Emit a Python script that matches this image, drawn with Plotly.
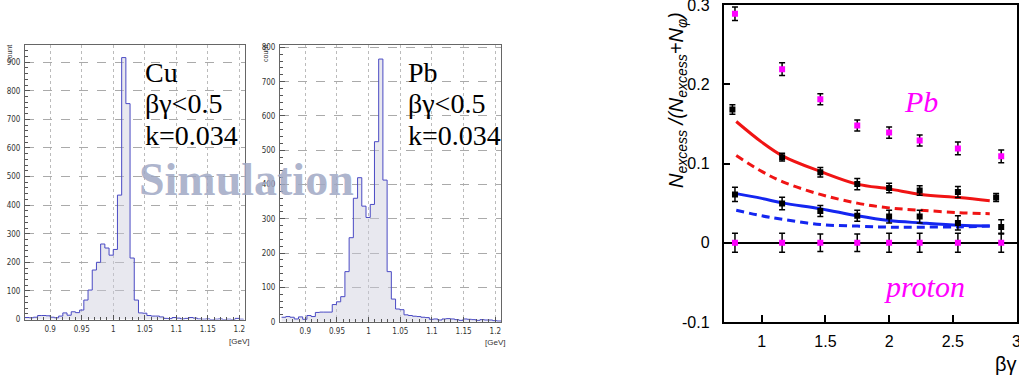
import plotly.graph_objects as go

# ---------------- data ----------------
bin_width = 1 / 150
cu_bin_start = 0.86
pb_bin_start = 0.8625
cu_counts = [7, 6, 8, 14, 14, 13, 8, 6, 12, 23,
             15, 27, 24, 33, 68, 103, 173, 200, 264, 250,
             225, 245, 435, 916, 755, 215, 68, 23, 22, 14,
             12, 12, 9, 4, 3, 7, 5, 2, 4, 7,
             5, 2, 1, 2, 0, 1, 2, 0, 1, 0,
             4, 1, 0]
pb_counts = [13, 15, 13, 8, 14, 7, 18, 15, 27, 28,
             28, 28, 50, 58, 73, 146, 245, 360, 420, 337,
             304, 342, 525, 766, 413, 146, 66, 37, 35, 20,
             18, 16, 15, 13, 12, 7, 8, 5, 8, 9,
             8, 6, 4, 8, 7, 6, 4, 6, 5, 5,
             3, 2, 2]
hist_tickvals = [0.9, 0.95, 1.0, 1.05, 1.1, 1.15, 1.2]
hist_ticktext = ["0.9", "0.95", "1", "1.05", "1.1", "1.15", "1.2"]
cu_yticks = [0, 100, 200, 300, 400, 500, 600, 700, 800, 900]
pb_yticks = [0, 100, 200, 300, 400, 500, 600, 700, 800]

bg_points = [0.79, 1.16, 1.46, 1.75, 2.0, 2.24, 2.54, 2.88]
pb_ratio = [0.289, 0.219, 0.181, 0.148, 0.139, 0.129, 0.119, 0.109]
pb_ratio_err = [0.0085, 0.008, 0.007, 0.007, 0.007, 0.007, 0.008, 0.008]
proton_ratio = [0, 0, 0, 0, 0, 0, 0, 0]
proton_err = [0.012, 0.012, 0.011, 0.011, 0.012, 0.012, 0.012, 0.012]

black_hi_bg = [0.77, 1.16, 1.46, 1.75, 2.0, 2.24, 2.54, 2.84]
black_hi = [0.168, 0.108, 0.089, 0.074, 0.069, 0.066, 0.064, 0.057]
black_hi_err = [0.006, 0.005, 0.006, 0.007, 0.006, 0.006, 0.007, 0.005]
black_lo_bg = [0.79, 1.16, 1.46, 1.75, 2.0, 2.24, 2.54, 2.88]
black_lo = [0.061, 0.0495, 0.040, 0.034, 0.033, 0.033, 0.025, 0.020]
black_lo_err = [0.009, 0.008, 0.007, 0.007, 0.008, 0.008, 0.009, 0.009]

curve_bg = [0.80, 1.0, 1.17, 1.46, 1.75, 2.0, 2.25, 2.55, 2.79]
red_solid = [0.153, 0.127, 0.109, 0.090, 0.074, 0.068, 0.061, 0.057, 0.053]
red_dash = [0.110, 0.090, 0.0765, 0.061, 0.050, 0.044, 0.041, 0.038, 0.0366]
blue_solid = [0.062, 0.056, 0.050, 0.043, 0.034, 0.028, 0.025, 0.022, 0.021]
blue_dash = [0.041, 0.034, 0.0294, 0.023, 0.021, 0.0197, 0.0197, 0.020, 0.021]

right_xticks = [1, 1.5, 2, 2.5, 3]
right_xticktext = ["1", "1.5", "2", "2.5", "3"]
right_yticks = [-0.1, 0, 0.1, 0.2, 0.3]
right_yticktext = ["-0.1", "0", "0.1", "0.2", "0.3"]

# ---------------- layout helpers ----------------
W, H = 1019, 380


def fx(p):
    return p / W


def fy(p):
    return 1 - p / H


HIST_LINE = "#4a4ac4"
HIST_FILL = "rgba(205,205,220,0.45)"
SMALL_FONT = dict(family="Liberation Sans Narrow, DejaVu Sans Condensed, sans-serif", size=8, color="#333")
MAGENTA = "#ff00ff"

fig = go.Figure()

# histograms
fig.add_trace(go.Scatter(x0=cu_bin_start, dx=bin_width, y=cu_counts, mode="lines",
                         line=dict(shape="hv", color=HIST_LINE, width=1),
                         fill="tozeroy", fillcolor=HIST_FILL, xaxis="x", yaxis="y",
                         hoverinfo="skip", showlegend=False))
fig.add_trace(go.Scatter(x0=pb_bin_start, dx=bin_width, y=pb_counts, mode="lines",
                         line=dict(shape="hv", color=HIST_LINE, width=1),
                         fill="tozeroy", fillcolor=HIST_FILL, xaxis="x2", yaxis="y2",
                         hoverinfo="skip", showlegend=False))

# right panel curves
for vals, col, dash in [(red_solid, "#f01414", "solid"), (red_dash, "#f01414", "8px,5px"),
                        (blue_solid, "#1426f0", "solid"), (blue_dash, "#1426f0", "8px,5px")]:
    fig.add_trace(go.Scatter(x=curve_bg, y=vals, mode="lines",
                             line=dict(color=col, width=3, dash=dash, shape="spline"),
                             xaxis="x3", yaxis="y3", hoverinfo="skip", showlegend=False))

# right panel points
for xs, ys, es, col in [(black_hi_bg, black_hi, black_hi_err, "black"),
                        (black_lo_bg, black_lo, black_lo_err, "black"),
                        (bg_points, pb_ratio, pb_ratio_err, MAGENTA),
                        (bg_points, proton_ratio, proton_err, MAGENTA)]:
    fig.add_trace(go.Scatter(x=xs, y=ys, mode="markers",
                             marker=dict(symbol="square", size=6, color=col),
                             error_y=dict(type="data", array=es, color="black", thickness=1.5, width=3),
                             xaxis="x3", yaxis="y3", hoverinfo="skip", showlegend=False))


def hist_xaxis(dom):
    return dict(domain=dom, range=[0.86, 1.209], tickmode="array", tickvals=hist_tickvals,
                ticktext=hist_ticktext, ticks="inside", ticklen=5, tickcolor="#555",
                showline=True, linecolor="#666", linewidth=1, mirror=True,
                showgrid=True, gridcolor="#bbb", griddash="dot", gridwidth=1,
                zeroline=False, tickfont=SMALL_FONT, ticklabelstandoff=2,
                ticklabeloverflow="allow", automargin=False,
                minor=dict(tickmode="linear", tick0=0.9, dtick=0.01, ticks="inside",
                           ticklen=3, tickcolor="#555", showgrid=False))


def hist_yaxis(dom, rng, ticks):
    return dict(domain=dom, range=rng, tickmode="array", tickvals=ticks,
                ticktext=[str(t) for t in ticks], ticks="inside", ticklen=5, tickcolor="#555",
                showline=True, linecolor="#666", linewidth=1, mirror=True,
                showgrid=True, gridcolor="#aaa", griddash="dash", gridwidth=1,
                zeroline=False, tickfont=SMALL_FONT, ticklabelstandoff=2,
                ticklabeloverflow="allow", automargin=False,
                minor=dict(tickmode="linear", tick0=0, dtick=20, ticks="inside",
                           ticklen=3, tickcolor="#555", showgrid=False))


layout = dict(
    width=W, height=H, autosize=False,
    margin=dict(l=0, r=0, t=0, b=0, pad=0, autoexpand=False),
    paper_bgcolor="white", plot_bgcolor="white",
    showlegend=False, hovermode=False,
    xaxis=dict(hist_xaxis([fx(25), fx(245)]), anchor="y"),
    yaxis=dict(hist_yaxis([fy(319.5), fy(45)], [0, 960], cu_yticks), anchor="x"),
    xaxis2=dict(hist_xaxis([fx(280), fx(501)]), anchor="y2"),
    yaxis2=dict(hist_yaxis([fy(321.7), fy(45)], [0, 807], pb_yticks), anchor="x2"),
    xaxis3=dict(domain=[fx(723.5), fx(1016.5)], range=[0.7, 3.0], anchor="y3",
                tickmode="array", tickvals=right_xticks, ticktext=right_xticktext,
                ticks="inside", ticklen=7, tickwidth=1.5, tickcolor="black",
                showline=True, linecolor="black", linewidth=1.5, mirror=True,
                showgrid=False, zeroline=False, ticklabelstandoff=4,
                ticklabeloverflow="allow", automargin=False,
                tickfont=dict(family="Liberation Sans, Arial, sans-serif", size=16, color="black")),
    yaxis3=dict(domain=[fy(322), fy(5)], range=[-0.1, 0.3], anchor="x3",
                tickmode="array", tickvals=right_yticks, ticktext=right_yticktext,
                ticks="inside", ticklen=7, tickwidth=1.5, tickcolor="black",
                showline=True, linecolor="black", linewidth=1.5, mirror=True,
                showgrid=False, zeroline=True, zerolinecolor="black", zerolinewidth=1.5,
                ticklabelstandoff=9, ticklabeloverflow="allow", automargin=False,
                tickfont=dict(family="Liberation Sans, Arial, sans-serif", size=16, color="black")),
)
fig.update_layout(**layout)

SERIF = "Liberation Serif, Times New Roman, serif"
ann = []
# histogram labels
for left, lab in [(143, "Cu"), (406, "Pb")]:
    for yc, txt in [(72, lab), (104, "βγ<0.5"), (135, "k=0.034")]:
        ann.append(dict(x=fx(left), y=fy(yc), xref="paper", yref="paper", text=txt,
                        showarrow=False, xanchor="left", yanchor="middle",
                        font=dict(family=SERIF, size=28, color="black")))
for xc, yc in [(9, 54), (265, 54)]:
    ann.append(dict(x=fx(xc), y=fy(yc), xref="paper", yref="paper", text="count",
                    showarrow=False, textangle=-90, xanchor="center", yanchor="middle",
                    font=dict(family="Liberation Sans Narrow, sans-serif", size=7, color="#333")))
for xc, yc in [(239, 341), (495, 342)]:
    ann.append(dict(x=fx(xc), y=fy(yc), xref="paper", yref="paper", text="[GeV]",
                    showarrow=False, xanchor="center", yanchor="middle",
                    font=dict(family="Liberation Sans Narrow, sans-serif", size=8, color="#333")))
# watermark
ann.append(dict(x=fx(246), y=fy(179), xref="paper", yref="paper", text="<b>Simulation</b>",
                showarrow=False, xanchor="center", yanchor="middle",
                font=dict(family=SERIF, size=46, color="rgba(160,168,196,0.85)")))
# right panel texts
ann.append(dict(x=fx(921), y=fy(102), xref="paper", yref="paper", text="<i>Pb</i>",
                showarrow=False, xanchor="center", yanchor="middle",
                font=dict(family=SERIF, size=30, color=MAGENTA)))
ann.append(dict(x=fx(924), y=fy(286), xref="paper", yref="paper", text="<i>proton</i>",
                showarrow=False, xanchor="center", yanchor="middle",
                font=dict(family=SERIF, size=30, color=MAGENTA)))
ann.append(dict(x=fx(1019), y=fy(364), xref="paper", yref="paper", text="βγ",
                showarrow=False, xanchor="right", yanchor="middle",
                font=dict(family="Liberation Sans, Arial, sans-serif", size=20, color="black")))
ann.append(dict(x=fx(678), y=fy(100), xref="paper", yref="paper",
                text="<i>N<sub>excess</sub> /(N<sub>excess</sub>+N<sub>φ</sub>)</i>",
                showarrow=False, textangle=-90, xanchor="center", yanchor="middle",
                font=dict(family="Liberation Sans, Arial, sans-serif", size=20, color="black")))
fig.update_layout(annotations=ann)

fig.write_html("out.html", config={"displayModeBar": False},
               post_script="document.body.style.margin='0';document.body.style.padding='0';")
